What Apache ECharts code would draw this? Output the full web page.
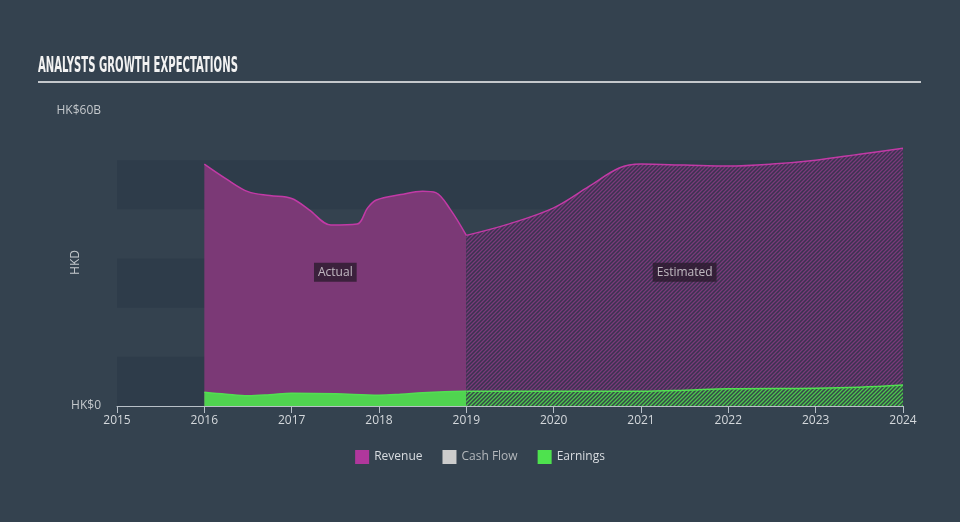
<!DOCTYPE html>
<html>
<head>
<meta charset="utf-8">
<script src="https://cdn.jsdelivr.net/npm/echarts@6/dist/echarts.min.js"></script>
<style>
html,body{margin:0;padding:0;background:#34424f;}
#chart{width:960px;height:522px;}
</style>
</head>
<body>
<div id="chart"></div>
<script>
// ---- data ----
var xTicks = [2015, 2016, 2017, 2018, 2019, 2020, 2021, 2022, 2023, 2024];
var revenueActualYears = [2016.0, 2016.25, 2016.5, 2016.75, 2017.0, 2017.2, 2017.45, 2017.75, 2017.87, 2017.97, 2018.25, 2018.5, 2018.65, 2018.82, 2019.0];
var revenueActualValues = [49.2, 46.2, 43.6, 42.8, 42.2, 39.9, 36.8, 37.0, 40.3, 41.9, 43.0, 43.7, 43.4, 39.9, 34.7];
var revenueEstYears = [2019.0, 2019.5, 2020.0, 2020.4, 2020.75, 2021.0, 2021.5, 2022.0, 2022.5, 2023.0, 2023.5, 2024.0];
var revenueEstValues = [34.7, 37.1, 40.3, 44.6, 48.4, 49.2, 49.0, 48.8, 49.2, 50.0, 51.2, 52.4];
var earningsActualYears = [2016.0, 2016.25, 2016.5, 2016.75, 2017.0, 2017.5, 2018.0, 2018.25, 2018.5, 2018.75, 2019.0];
var earningsActualValues = [2.8, 2.4, 2.1, 2.3, 2.6, 2.5, 2.2, 2.4, 2.7, 2.9, 3.0];
var earningsEstYears = [2019.0, 2020.0, 2021.0, 2021.5, 2022.0, 2023.0, 2023.5, 2024.0];
var earningsEstValues = [3.0, 3.0, 3.0, 3.2, 3.5, 3.6, 3.8, 4.25];
var annotationNames = ['Actual', 'Estimated'];
var annotationYears = [2017.5, 2021.5];
var annotationValues = [27.2, 27.2];
var legendNames = ['Revenue', 'Cash Flow', 'Earnings'];

function pairs(xs, ys) { return xs.map(function (x, i) { return [x, ys[i]]; }); }

function hatch(bg, fg) {
  var s = 4;
  var c = document.createElement('canvas');
  c.width = s; c.height = s;
  var g = c.getContext('2d');
  g.fillStyle = bg; g.fillRect(0, 0, s, s);
  g.strokeStyle = fg; g.lineWidth = 1.3;
  g.beginPath();
  g.moveTo(-1, s + 1); g.lineTo(s + 1, -1);
  g.moveTo(-1 - s, s + 1); g.lineTo(1, -1);
  g.moveTo(s - 1, s + 1); g.lineTo(2 * s + 1, -1);
  g.stroke();
  return { image: c, repeat: 'repeat' };
}

var revLine = '#c23aa6';
var revFill = '#7b3976';
var earnLine = '#52e052';
var earnFill = '#50d450';

var chart = echarts.init(document.getElementById('chart'));
chart.setOption({
  backgroundColor: '#34424f',
  animation: false,
  grid: { left: 117, right: 57, top: 111, bottom: 116 },
  graphic: [
    { type: 'text', left: 38, top: 55, scaleX: 0.51,
      style: { text: 'ANALYSTS GROWTH EXPECTATIONS', font: 'bold 22px "Liberation Sans Narrow", "DejaVu Sans Condensed", sans-serif', fill: '#f2f2f2' } },
    { type: 'line', shape: { x1: 38, y1: 82, x2: 921, y2: 82 }, style: { stroke: '#c4c8cc', lineWidth: 2 } },
    { type: 'text', left: 70, top: 250, rotation: Math.PI / 2,
      style: { text: 'HKD', font: '12px "Open Sans", sans-serif', fill: '#c4c8cc' } }
  ],
  legend: {
    data: [
      { name: 'Revenue', textStyle: { color: '#d8dce0' } },
      { name: 'Cash Flow', textStyle: { color: '#b4b8bc' } },
      { name: 'Earnings', textStyle: { color: '#d8dce0' } }
    ],
    bottom: 53,
    left: 'center',
    icon: 'rect',
    itemWidth: 14,
    itemHeight: 14,
    itemGap: 20,
    textStyle: { color: '#d4d8dc', fontSize: 12, fontFamily: '"Open Sans", sans-serif' }
  },
  xAxis: {
    type: 'value', min: xTicks[0], max: xTicks[xTicks.length - 1], interval: 1,
    axisLine: { lineStyle: { color: '#b8c0c8', width: 1 } },
    axisTick: { show: true, length: 7, lineStyle: { color: '#b8c0c8' } },
    axisLabel: { color: '#d4d8dc', fontSize: 12, margin: 9, fontFamily: '"Open Sans", sans-serif',
      formatter: function (v) { return String(v); } },
    splitLine: { show: false }
  },
  yAxis: {
    type: 'value', min: 0, max: 60, interval: 10,
    axisLine: { show: false }, axisTick: { show: false },
    axisLabel: { color: '#c4c8cc', fontSize: 12, margin: 16, padding: [0, 0, 5, 0], fontFamily: '"Open Sans", sans-serif',
      formatter: function (v) { return v === 0 ? 'HK$0' : (v === 60 ? 'HK$60B' : ''); } },
    splitLine: { show: false },
    splitArea: { show: true, areaStyle: { color: ['#2e3c4a', 'rgba(0,0,0,0)'] } }
  },
  series: [
    { name: 'Revenue', type: 'line', smooth: 0.35, symbol: 'none', z: 2,
      data: pairs(revenueActualYears, revenueActualValues),
      itemStyle: { color: '#b0379c' },
      lineStyle: { color: revLine, width: 1.5 },
      areaStyle: { color: revFill, opacity: 1 } },
    { name: 'Revenue', type: 'line', smooth: 0.35, symbol: 'none', z: 2,
      data: pairs(revenueEstYears, revenueEstValues),
      itemStyle: { color: '#b0379c' },
      lineStyle: { color: revLine, width: 1.5 },
      areaStyle: { color: hatch('#3a3350', '#7a3a7a'), opacity: 1 } },
    { name: 'Cash Flow', type: 'line', symbol: 'none', data: [],
      itemStyle: { color: '#cccccc' } },
    { name: 'Earnings', type: 'line', smooth: 0.35, symbol: 'none', z: 3,
      data: pairs(earningsActualYears, earningsActualValues),
      itemStyle: { color: '#4ee24e' },
      lineStyle: { color: earnLine, width: 1.5 },
      areaStyle: { color: earnFill, opacity: 1 } },
    { name: 'Earnings', type: 'line', smooth: 0.35, symbol: 'none', z: 3,
      data: pairs(earningsEstYears, earningsEstValues),
      itemStyle: { color: '#4ee24e' },
      lineStyle: { color: earnLine, width: 1.5 },
      areaStyle: { color: hatch('#36464a', '#4cc84c'), opacity: 1 } },
    { name: 'annot', type: 'scatter', symbolSize: 0, z: 5, silent: true,
      data: annotationYears.map(function (x, i) { return { value: [x, annotationValues[i]], name: annotationNames[i] }; }),
      label: { show: true, position: 'inside', formatter: '{b}', color: '#e0dce0', fontSize: 12,
        fontFamily: '"Open Sans", sans-serif',
        backgroundColor: '#2c1b2e', padding: [4, 4, 3, 4] } }
  ]
});
</script>
</body>
</html>
